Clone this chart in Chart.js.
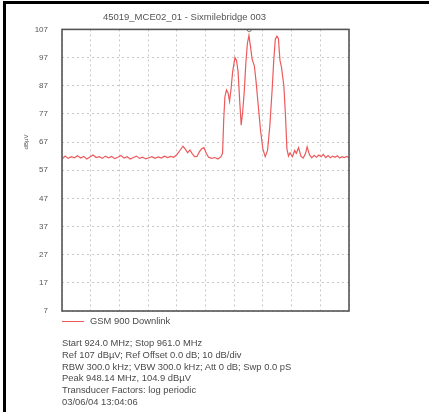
<!DOCTYPE html>
<html>
<head>
<meta charset="utf-8">
<script src="https://cdn.jsdelivr.net/npm/chart.js@4.4.1/dist/chart.umd.min.js"></script>
<style>
  html, body { margin: 0; padding: 0; background: #fff; }
  body { width: 429px; height: 412px; position: relative; overflow: hidden;
         font-family: "Liberation Sans", Arial, sans-serif; }
  #frame { position: absolute; left: 3px; top: 1px; width: 440px; height: 430px;
           border-left: 3px solid #000; border-top: 3px solid #000; }
  #wrap { position: absolute; left: 0; top: 0; width: 429px; height: 412px; }
  #unit { position: absolute; left: 14px; top: 139px; font-size: 6px; color: #555;
          transform: rotate(-90deg); transform-origin: center; width: 24px; text-align: center; }
  #legend { position: absolute; left: 62px; top: 315px; font-size: 9.4px; color: #4a4a4a; }
  #legend .ln { position: absolute; left: 0; top: 6px; width: 22px; height: 1px; background: #ec5a5c; }
  #legend .tx { position: absolute; left: 28px; top: 0; white-space: nowrap; }
  #info { position: absolute; left: 62px; top: 337px; font-size: 9.4px; line-height: 11.8px;
          color: #4a4a4a; white-space: nowrap; }
</style>
</head>
<body>
<div id="frame"></div>
<div id="wrap"><canvas id="spectrum" width="429" height="412"></canvas></div>
<div id="unit">dBµV</div>
<div id="legend"><div class="ln"></div><div class="tx">GSM 900 Downlink</div></div>
<div id="info"></div>
<script>
// sweep, MHz / dBuV
const freqMHz = [
  924.0, 924.4, 924.8, 925.2, 925.6, 926.0, 926.4, 926.8, 927.2, 927.6,
  928.0, 928.4, 928.8, 929.2, 929.6, 930.0, 930.4, 930.8, 931.2, 931.6,
  932.0, 932.4, 932.8, 933.2, 933.6, 934.0, 934.4, 934.8, 935.2, 935.6,
  936.0, 936.4, 936.8, 937.2, 937.6, 938.0, 938.4, 938.8, 939.2, 939.6,
  939.9, 940.2, 940.5, 940.8, 941.1, 941.4, 941.7, 942.0, 942.3, 942.6,
  942.9, 943.3, 943.7, 944.1, 944.5, 944.7, 944.85, 945.0, 945.2, 945.4,
  945.6, 945.8, 946.0, 946.3, 946.5, 946.7, 946.9, 947.1, 947.3, 947.5,
  947.7, 947.9, 948.1, 948.3, 948.5, 948.8, 949.0, 949.3, 949.6, 949.9,
  950.2, 950.5, 950.8, 951.1, 951.3, 951.5, 951.7, 951.9, 952.1, 952.3,
  952.6, 952.8, 953.0, 953.2, 953.4, 953.7, 954.0, 954.2, 954.5, 954.8,
  955.1, 955.4, 955.6, 955.9, 956.2, 956.5, 956.8, 957.1, 957.4, 957.7,
  958.0, 958.3, 958.6, 958.9, 959.2, 959.5, 959.8, 960.1, 960.4, 960.7,
  961.0
];
const levelDbuV = [
  61.0, 62.0, 61.2, 61.8, 61.4, 62.1, 61.3, 61.9, 61.0, 61.7,
  62.4, 61.5, 61.8, 61.2, 62.0, 61.4, 61.9, 61.1, 61.6, 62.2,
  61.3, 61.8, 61.0, 61.5, 62.0, 61.2, 61.6, 61.0, 61.4, 61.8,
  61.2, 61.7, 61.3, 62.0, 61.5, 61.9, 61.6, 62.5, 64.0, 65.5,
  64.5, 63.2, 64.2, 62.8, 61.8, 61.9, 63.5, 64.6, 65.0, 63.0,
  61.6, 61.2, 61.5, 61.0, 61.8, 63.0, 75.0, 83.0, 85.5, 84.5,
  81.5, 86.0, 92.0, 97.0, 96.0, 92.0, 82.0, 73.0, 78.0, 85.0,
  95.0, 102.0, 104.9, 101.0, 96.5, 94.0, 89.0, 80.0, 71.0, 64.5,
  61.8, 64.0, 73.0, 86.0, 96.0, 103.5, 104.6, 103.8, 96.0, 93.5,
  87.0, 77.0, 64.5, 62.0, 63.2, 61.8, 64.0, 63.0, 65.0, 62.0,
  61.3, 63.0, 65.3, 62.5, 61.4, 62.3, 61.6, 62.4, 61.8, 62.6,
  61.5, 62.2, 61.4, 62.0, 61.6, 62.1, 61.3, 61.8, 61.5, 61.9,
  61.4
];
const xGrid = [924, 927.7, 931.4, 935.1, 938.8, 942.5, 946.2, 949.9, 953.6, 957.3, 961];
const yTicks = [7, 17, 27, 37, 47, 57, 67, 77, 87, 97, 107];
const peakMarker = [948.14, 107];

const chartTitle = "45019_MCE02_01 - Sixmilebridge 003";
const infoLines = [
  "Start 924.0 MHz; Stop 961.0 MHz",
  "Ref 107 dBµV; Ref Offset 0.0 dB; 10 dB/div",
  "RBW 300.0 kHz; VBW 300.0 kHz; Att 0 dB; Swp 0.0 pS",
  "Peak 948.14 MHz, 104.9 dBµV",
  "Transducer Factors: log periodic",
  "03/06/04 13:04:06"
];

document.getElementById('info').innerHTML = infoLines.join('<br>');

// frame around the plot area
const boxPlugin = {
  id: 'plotBox',
  afterDatasetsDraw(chart) {
    const a = chart.chartArea, ctx = chart.ctx;
    ctx.save();
    ctx.strokeStyle = '#555';
    ctx.lineWidth = 1.6;
    ctx.strokeRect(a.left, a.top, a.right - a.left, a.bottom - a.top);
    ctx.restore();
  }
};

const gridStyle = { color: '#c8c8c8', lineWidth: 1, drawTicks: false };
const gridBorder = { display: false, dash: [2, 3] };

new Chart(document.getElementById('spectrum'), {
  type: 'line',
  data: {
    datasets: [
      {
        label: 'GSM 900 Downlink',
        data: freqMHz.map((f, i) => ({ x: f, y: levelDbuV[i] })),
        borderColor: '#ec5a5c',
        borderWidth: 1.2,
        pointRadius: 0,
        tension: 0
      },
      {
        label: 'marker',
        data: [{ x: peakMarker[0], y: peakMarker[1] }],
        showLine: false,
        pointRadius: 2.2,
        pointBorderColor: '#777',
        pointBackgroundColor: '#fff',
        pointBorderWidth: 1
      }
    ]
  },
  options: {
    responsive: false,
    animation: false,
    devicePixelRatio: 1,
    layout: { padding: { left: 20, right: 80, top: 0, bottom: 101 } },
    plugins: {
      legend: { display: false },
      tooltip: { enabled: false },
      title: {
        display: true,
        text: chartTitle,
        color: '#555',
        font: { family: 'Liberation Sans', size: 9.5, weight: 'normal' },
        padding: { top: 11.5, bottom: 6.5 }
      }
    },
    scales: {
      x: {
        type: 'linear',
        min: 924, max: 961,
        afterBuildTicks: s => { s.ticks = xGrid.map(v => ({ value: v })); },
        ticks: { display: false },
        grid: gridStyle,
        border: gridBorder
      },
      y: {
        min: 7, max: 107,
        afterBuildTicks: s => { s.ticks = yTicks.map(v => ({ value: v })); },
        afterFit: s => { s.width = 42; },
        ticks: {
          color: '#555',
          padding: 14,
          font: { family: 'Liberation Sans', size: 8 }
        },
        grid: gridStyle,
        border: gridBorder
      }
    }
  },
  plugins: [boxPlugin]
});
</script>
</body>
</html>
